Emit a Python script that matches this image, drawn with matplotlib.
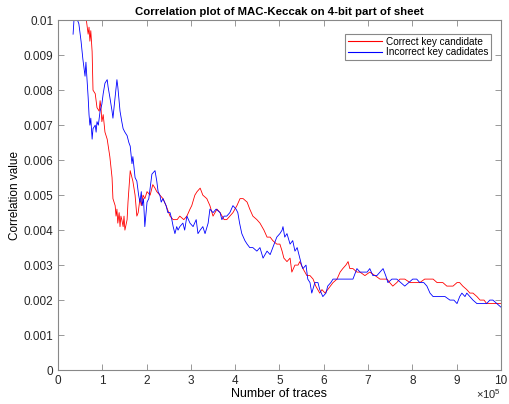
import matplotlib
matplotlib.use("Agg")
import matplotlib.pyplot as plt
from matplotlib.ticker import MultipleLocator, FuncFormatter

plt.rcParams["font.family"] = ["Liberation Sans", "DejaVu Sans"]
plt.rcParams["mathtext.fontset"] = "custom"
plt.rcParams["mathtext.rm"] = "Liberation Sans"

# number of traces, in units of 1e5
blue_x = [0.34, 0.36, 0.41, 0.47, 0.52, 0.56, 0.59, 0.61, 0.63, 0.65, 0.68, 0.70, 0.72, 0.74, 0.77,
          0.79, 0.84, 0.86, 0.88, 0.91, 0.95, 0.99, 1.02, 1.06, 1.11, 1.13, 1.17, 1.22, 1.24, 1.29,
          1.33, 1.35, 1.40, 1.44, 1.47, 1.51, 1.56, 1.60, 1.63, 1.67, 1.69, 1.74, 1.78, 1.82, 1.85,
          1.88, 1.90, 1.93, 1.96, 2.01, 2.05, 2.08, 2.12, 2.19, 2.23, 2.26, 2.30, 2.33, 2.37, 2.44,
          2.48, 2.53, 2.57, 2.60, 2.64, 2.68, 2.71, 2.75, 2.82, 2.86, 2.91, 2.98, 3.05, 3.12, 3.16,
          3.21, 3.27, 3.32, 3.39, 3.43, 3.50, 3.57, 3.66, 3.70, 3.75, 3.81, 3.88, 3.95, 4.02, 4.06,
          4.10, 4.15, 4.22, 4.27, 4.33, 4.40, 4.49, 4.56, 4.63, 4.72, 4.79, 4.85, 4.94, 5.01, 5.06,
          5.08, 5.12, 5.17, 5.24, 5.30, 5.35, 5.40, 5.46, 5.50, 5.53, 5.60, 5.64, 5.69, 5.73, 5.80,
          5.87, 5.91, 5.98, 6.05, 6.09, 6.16, 6.21, 6.30, 6.37, 6.48, 6.59, 6.66, 6.75, 6.82, 6.88,
          6.98, 7.04, 7.11, 7.20, 7.27, 7.34, 7.40, 7.45, 7.54, 7.65, 7.74, 7.83, 7.92, 8.01, 8.10,
          8.17, 8.26, 8.33, 8.40, 8.47, 8.56, 8.62, 8.74, 8.85, 8.94, 9.01, 9.07, 9.12, 9.19, 9.23,
          9.30, 9.37, 9.46, 9.53, 9.62, 9.68, 9.75, 9.82, 9.91, 10.00]
blue_y = [0.0096, 0.0100, 0.0101, 0.0099, 0.0094, 0.0089, 0.0086, 0.0084, 0.0088, 0.0084, 0.0078,
          0.0073, 0.0070, 0.0072, 0.0066, 0.0069, 0.0070, 0.0068, 0.0071, 0.0070, 0.0074, 0.0076,
          0.0079, 0.0082, 0.0083, 0.0081, 0.0078, 0.0074, 0.0072, 0.0078, 0.0083, 0.0081, 0.0074,
          0.0071, 0.0069, 0.0068, 0.0067, 0.0065, 0.0064, 0.0059, 0.0061, 0.0055, 0.0054, 0.0050,
          0.0048, 0.0051, 0.0047, 0.0049, 0.0041, 0.0048, 0.0049, 0.0052, 0.0056, 0.0057, 0.0054,
          0.0051, 0.0050, 0.0048, 0.0049, 0.0047, 0.0045, 0.0045, 0.0043, 0.0041, 0.0039, 0.0041,
          0.0040, 0.0041, 0.0042, 0.0040, 0.0044, 0.0042, 0.0041, 0.0043, 0.0039, 0.0040, 0.0041,
          0.0039, 0.0042, 0.0046, 0.0045, 0.0046, 0.0045, 0.0043, 0.0044, 0.0044, 0.0045, 0.0047,
          0.0046, 0.0045, 0.0042, 0.0039, 0.0037, 0.0036, 0.0035, 0.0035, 0.0034, 0.0035, 0.0032,
          0.0034, 0.0033, 0.0035, 0.0038, 0.0039, 0.0040, 0.0041, 0.0038, 0.0039, 0.0036, 0.0037,
          0.0034, 0.0035, 0.0032, 0.0030, 0.0029, 0.0030, 0.0026, 0.0025, 0.0022, 0.0025, 0.0025,
          0.0023, 0.0021, 0.0022, 0.0024, 0.0025, 0.0026, 0.0026, 0.0026, 0.0026, 0.0026, 0.0026,
          0.0029, 0.0028, 0.0028, 0.0028, 0.0029, 0.0027, 0.0027, 0.0028, 0.0029, 0.0027, 0.0025,
          0.0026, 0.0026, 0.0025, 0.0024, 0.0025, 0.0026, 0.0026, 0.0025, 0.0025, 0.0024, 0.0022,
          0.0021, 0.0021, 0.0021, 0.0021, 0.0020, 0.0020, 0.0019, 0.0021, 0.0022, 0.0021, 0.0022,
          0.0021, 0.0020, 0.0019, 0.0019, 0.0019, 0.0019, 0.0020, 0.0020, 0.0019, 0.0018]

red_x = [0.61, 0.63, 0.65, 0.68, 0.70, 0.72, 0.74, 0.77, 0.79, 0.84, 0.88, 0.93, 0.95, 0.97, 0.99,
         1.02, 1.06, 1.11, 1.17, 1.22, 1.24, 1.29, 1.31, 1.33, 1.35, 1.38, 1.40, 1.42, 1.44, 1.47,
         1.49, 1.51, 1.56, 1.58, 1.63, 1.67, 1.69, 1.74, 1.78, 1.81, 1.85, 1.88, 1.92, 1.96, 2.01,
         2.08, 2.14, 2.19, 2.23, 2.30, 2.37, 2.44, 2.53, 2.60, 2.69, 2.75, 2.84, 2.91, 2.98, 3.02,
         3.09, 3.14, 3.21, 3.27, 3.36, 3.43, 3.50, 3.59, 3.66, 3.75, 3.81, 3.88, 3.95, 4.04, 4.11,
         4.18, 4.27, 4.33, 4.40, 4.49, 4.56, 4.65, 4.72, 4.79, 4.85, 4.94, 5.01, 5.06, 5.10, 5.17,
         5.24, 5.28, 5.35, 5.42, 5.46, 5.53, 5.62, 5.69, 5.76, 5.82, 5.91, 5.96, 6.03, 6.09, 6.21,
         6.30, 6.37, 6.43, 6.50, 6.55, 6.59, 6.66, 6.75, 6.82, 6.93, 7.04, 7.16, 7.27, 7.36, 7.43,
         7.49, 7.56, 7.65, 7.72, 7.83, 7.95, 8.06, 8.17, 8.28, 8.40, 8.47, 8.56, 8.62, 8.69, 8.78,
         8.85, 8.92, 9.01, 9.07, 9.14, 9.23, 9.30, 9.37, 9.46, 9.53, 9.62, 9.68, 9.75, 9.86, 10.00]
red_y = [0.0100, 0.0101, 0.0099, 0.0096, 0.0098, 0.0094, 0.0097, 0.0091, 0.0080, 0.0079, 0.0075,
         0.0074, 0.0077, 0.0075, 0.0071, 0.0073, 0.0068, 0.0066, 0.0061, 0.0055, 0.0049, 0.0047,
         0.0044, 0.0046, 0.0042, 0.0045, 0.0041, 0.0044, 0.0043, 0.0041, 0.0044, 0.0040, 0.0043,
         0.0048, 0.0057, 0.0055, 0.0054, 0.0050, 0.0044, 0.0045, 0.0049, 0.0047, 0.0050, 0.0049,
         0.0051, 0.0050, 0.0053, 0.0052, 0.0051, 0.0050, 0.0049, 0.0047, 0.0044, 0.0043, 0.0043,
         0.0044, 0.0043, 0.0044, 0.0046, 0.0047, 0.0050, 0.0051, 0.0052, 0.0050, 0.0049, 0.0047,
         0.0044, 0.0046, 0.0045, 0.0043, 0.0043, 0.0044, 0.0045, 0.0047, 0.0049, 0.0049, 0.0048,
         0.0046, 0.0044, 0.0043, 0.0042, 0.0040, 0.0038, 0.0038, 0.0037, 0.0036, 0.0036, 0.0034,
         0.0032, 0.0031, 0.0032, 0.0028, 0.0030, 0.0030, 0.0031, 0.0029, 0.0027, 0.0027, 0.0026,
         0.0024, 0.0022, 0.0023, 0.0022, 0.0023, 0.0025, 0.0026, 0.0028, 0.0029, 0.0030, 0.0031,
         0.0029, 0.0029, 0.0028, 0.0028, 0.0027, 0.0028, 0.0027, 0.0026, 0.0026, 0.0026, 0.0025,
         0.0024, 0.0025, 0.0026, 0.0026, 0.0025, 0.0025, 0.0025, 0.0026, 0.0026, 0.0026, 0.0025,
         0.0025, 0.0025, 0.0024, 0.0024, 0.0024, 0.0025, 0.0025, 0.0024, 0.0023, 0.0022, 0.0022,
         0.0021, 0.0020, 0.0020, 0.0019, 0.0019, 0.0019, 0.0019]

labels = ["Correct key candidate", "Incorrect key cadidates"]
x_scale = 1e5

fig = plt.figure(figsize=(5.09, 4.04), dpi=100)
ax = fig.add_axes([0.114, 0.084, 0.870, 0.866])

ax.plot([v * x_scale for v in red_x], red_y, color="#ff0000", lw=0.6, label=labels[0])
ax.plot([v * x_scale for v in blue_x], blue_y, color="#0000ff", lw=0.6, label=labels[1])

ax.set_xlim(0, 10 * x_scale)
ax.set_ylim(0, 0.01)
ax.xaxis.set_major_locator(MultipleLocator(x_scale))
ax.yaxis.set_major_locator(MultipleLocator(0.001))
ax.xaxis.set_major_formatter(FuncFormatter(lambda v, p: "%g" % round(v / x_scale, 3)))
ax.yaxis.set_major_formatter(FuncFormatter(lambda v, p: "%g" % round(v, 4)))

grey = "#262626"
for s in ax.spines.values():
    s.set_color("#888888")
    s.set_linewidth(0.8)
ax.tick_params(direction="in", length=4, width=0.6, top=True, right=True,
               labelsize=8.5, colors="#888888", labelcolor=grey)

# exponent for the x axis, drawn as a plain label under the right end
fig.text(0.984, 0.008, r"$\times10^{5}$", ha="right", va="bottom",
         fontsize=8, color=grey)

ax.set_title("Correlation plot of MAC-Keccak on 4-bit part of sheet",
             fontsize=8.2, fontweight="bold", pad=4)
ax.set_xlabel("Number of traces", fontsize=9, labelpad=1)
ax.set_ylabel("Correlation value", fontsize=8.5, labelpad=2)

leg = ax.legend(loc="upper right", fontsize=7.2, fancybox=False, framealpha=1,
                edgecolor="#888888", handlelength=3.4, borderpad=0.3,
                labelspacing=0.05, handletextpad=0.4, bbox_to_anchor=(0.99, 0.975))
leg.get_frame().set_linewidth(0.8)
for h, c in zip(leg.get_lines(), ["#ff0000", "#0000ff"]):
    h.set_color(c)
    h.set_linewidth(0.8)

fig.savefig("out.png", dpi=100)
